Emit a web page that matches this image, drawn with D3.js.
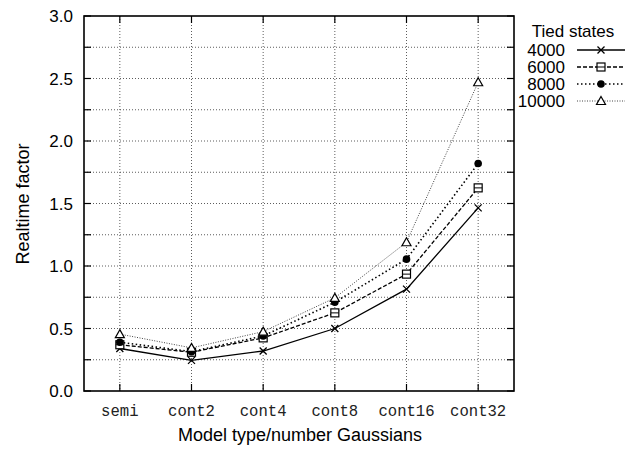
<!DOCTYPE html>
<html><head><meta charset="utf-8">
<script src="https://cdn.jsdelivr.net/npm/d3@7"></script>
<style>body{margin:0;background:#fff}</style>
</head><body>
<svg id="chart" width="634" height="449"></svg>
<script>
const categories = ["semi","cont2","cont4","cont8","cont16","cont32"];
const seriesNames = ["4000","6000","8000","10000"];
const s4000  = [0.34,0.245,0.32,0.50,0.815,1.465];
const s6000  = [0.37,0.31,0.425,0.625,0.935,1.625];
const s8000  = [0.39,0.315,0.44,0.71,1.055,1.82];
const s10000 = [0.455,0.345,0.475,0.745,1.19,2.47];
const yTicks = [0,0.5,1.0,1.5,2.0,2.5,3.0];
const yGrid = d3.range(0,3.01,0.25);

const svg = d3.select("#chart");
const L=84,R=514,T=16,B=391;
const SANS="Liberation Sans, Arial, sans-serif";
const x = d3.scalePoint().domain(categories).range([L,R]).padding(0.5);
const y = d3.scaleLinear().domain([0,3]).range([B,T]);

// grid
svg.append("g").selectAll("line").data(yGrid.slice(1,-1)).join("line")
  .attr("x1",L).attr("x2",R).attr("y1",d=>y(d)).attr("y2",d=>y(d))
  .attr("stroke","#333").attr("stroke-width",0.8).attr("stroke-dasharray","1,2");
svg.append("g").selectAll("line").data(categories).join("line")
  .attr("x1",d=>x(d)).attr("x2",d=>x(d)).attr("y1",T).attr("y2",B)
  .attr("stroke","#333").attr("stroke-width",0.8).attr("stroke-dasharray","1,2");

// ticks (inward, both sides)
const tk=7;
svg.append("g").selectAll("line").data(yGrid).join("line")
  .attr("x1",L).attr("x2",L+tk).attr("y1",d=>y(d)).attr("y2",d=>y(d)).attr("stroke","#000").attr("stroke-width",1.2);
svg.append("g").selectAll("line").data(yGrid).join("line")
  .attr("x1",R).attr("x2",R-tk).attr("y1",d=>y(d)).attr("y2",d=>y(d)).attr("stroke","#000").attr("stroke-width",1.2);
svg.append("g").selectAll("line").data(categories).join("line")
  .attr("x1",d=>x(d)).attr("x2",d=>x(d)).attr("y1",B).attr("y2",B-tk).attr("stroke","#000").attr("stroke-width",1.2);
svg.append("g").selectAll("line").data(categories).join("line")
  .attr("x1",d=>x(d)).attr("x2",d=>x(d)).attr("y1",T).attr("y2",T+tk).attr("stroke","#000").attr("stroke-width",1.2);

// frame
svg.append("rect").attr("x",L).attr("y",T).attr("width",R-L).attr("height",B-T)
  .attr("fill","none").attr("stroke","#000").attr("stroke-width",1.6);

// y tick labels
svg.append("g").selectAll("text").data(yTicks).join("text")
  .attr("x",73).attr("y",d=>y(d)).attr("dy","0.36em").attr("text-anchor","end")
  .attr("font-family",SANS).attr("font-size",17)
  .text(d=>d3.format(".1f")(d));
// x tick labels
svg.append("g").selectAll("text").data(categories).join("text")
  .attr("x",d=>x(d)).attr("y",415.5).attr("text-anchor","middle")
  .attr("font-family","Liberation Mono, Courier New, monospace").attr("font-size",15.6)
  .attr("fill","#222")
  .text(d=>d);
// axis titles
svg.append("text").attr("x",300).attr("y",441).attr("text-anchor","middle")
  .attr("font-family",SANS).attr("font-size",18)
  .text("Model type/number Gaussians");
svg.append("text").attr("transform",`translate(29,${204}) rotate(-90)`).attr("text-anchor","middle")
  .attr("font-family",SANS).attr("font-size",18)
  .text("Realtime factor");

const series = [
  {name:seriesNames[0], vals:s4000, dash:null, w:1.3, color:"#000", marker:"x"},
  {name:seriesNames[1], vals:s6000, dash:"4,2", w:1.3, color:"#000", marker:"sq"},
  {name:seriesNames[2], vals:s8000, dash:"1.5,2.5", w:1.6, color:"#000", marker:"circ"},
  {name:seriesNames[3], vals:s10000, dash:"1,1.5", w:1.0, color:"#444", marker:"tri"}
];
const line = d3.line().x((d,i)=>x(categories[i])).y(d=>y(d));

function drawMarker(g,type,cx,cy){
  if(type==="x"){
    g.append("path").attr("d",`M${cx-3.5},${cy-3.5}L${cx+3.5},${cy+3.5}M${cx-3.5},${cy+3.5}L${cx+3.5},${cy-3.5}`)
      .attr("stroke","#000").attr("stroke-width",1.3);
  } else if(type==="sq"){
    g.append("rect").attr("x",cx-4).attr("y",cy-4).attr("width",8).attr("height",8)
      .attr("fill","#fff").attr("stroke","#000").attr("stroke-width",1.2);
    g.append("path").attr("d",`M${cx-4},${cy}L${cx+4},${cy}`).attr("stroke","#000").attr("stroke-width",1);
  } else if(type==="circ"){
    g.append("circle").attr("cx",cx).attr("cy",cy).attr("r",3.8).attr("fill","#000");
  } else {
    g.append("path").attr("d",`M${cx},${cy-4.5}L${cx+4.5},${cy+3.5}L${cx-4.5},${cy+3.5}Z`)
      .attr("fill","#fff").attr("stroke","#000").attr("stroke-width",1.2);
  }
}

series.forEach(s=>{
  svg.append("path").datum(s.vals).attr("d",line).attr("fill","none")
    .attr("stroke",s.color).attr("stroke-width",s.w).attr("stroke-dasharray",s.dash);
});
series.forEach(s=>{
  const g=svg.append("g");
  s.vals.forEach((v,i)=>drawMarker(g,s.marker,x(categories[i]),y(v)));
});

// legend
const lg = svg.append("g");
lg.append("text").attr("x",573).attr("y",37).attr("text-anchor","middle")
  .attr("font-family",SANS).attr("font-size",17).text("Tied states");
series.forEach((s,i)=>{
  const yy = 50 + i*17;
  lg.append("text").attr("x",565).attr("y",yy).attr("dy","0.36em").attr("text-anchor","end")
    .attr("font-family",SANS).attr("font-size",17).text(s.name);
  lg.append("line").attr("x1",577).attr("x2",625).attr("y1",yy).attr("y2",yy)
    .attr("stroke",s.color).attr("stroke-width",s.w).attr("stroke-dasharray",s.dash);
  drawMarker(lg,s.marker,601,yy);
});
</script>
</body></html>
